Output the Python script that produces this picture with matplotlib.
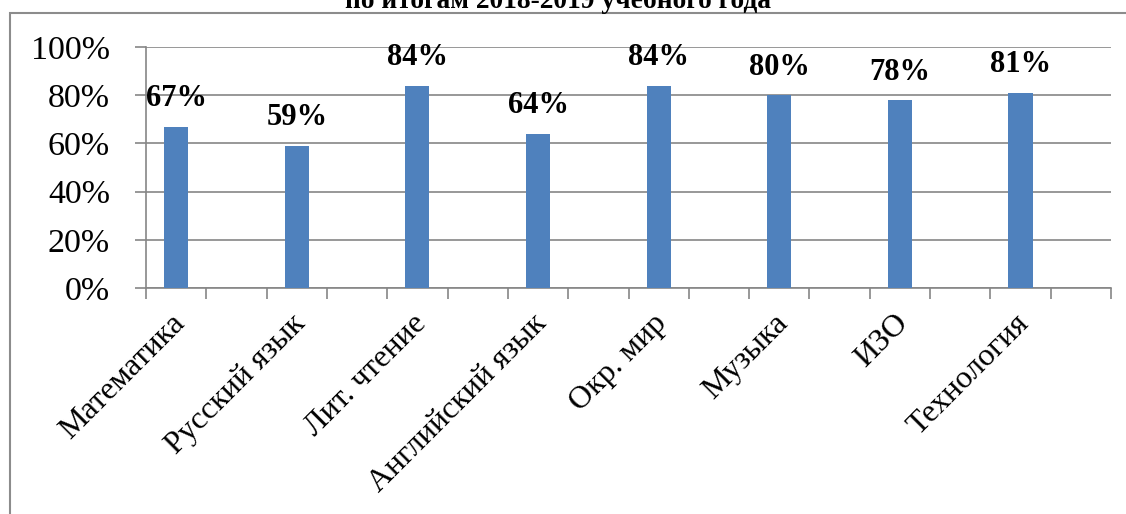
import matplotlib
matplotlib.use("Agg")
import matplotlib.pyplot as plt
from matplotlib.patches import Rectangle
from matplotlib.ticker import FixedLocator, PercentFormatter

subjects = ["Математика", "Русский язык", "Лит. чтение", "Английский язык",
            "Окр. мир", "Музыка", "ИЗО", "Технология"]
quality = [67, 59, 84, 64, 84, 80, 78, 81]
y_ticks = [0, 20, 40, 60, 80, 100]
title = "по итогам 2018-2019 учебного года"

BAR_COLOR = "#4F81BD"
GRID_COLOR = "#868686"

plt.rcParams["font.family"] = ["Liberation Serif", "DejaVu Serif"]

fig = plt.figure(figsize=(11.26, 5.14), dpi=100)

# outer chart frame (clipped on the right and bottom like the source)
frame = Rectangle((10 / 1126, -0.1), 1.2, 1 - 13 / 514 + 0.1,
                  transform=fig.transFigure, fill=False,
                  edgecolor="#8c8c8c", linewidth=1.5)
fig.patches.append(frame)

fig.text(0.496, 1 - 8 / 514, title, ha="center", va="baseline",
         fontsize=19.8, fontweight="bold")

ax = fig.add_axes([146 / 1126, 226 / 514, 965 / 1126, 241 / 514])
# bars sit in the left half of each category (blank slot on the right)
x = [i - 0.25 for i in range(len(subjects))]
ax.bar(x, quality, width=0.2, color=BAR_COLOR, zorder=3)

for xi, val in zip(x, quality):
    ax.annotate(f"{val}%", (xi, val), xytext=(0, 28), textcoords="offset pixels",
                ha="center", va="center", fontsize=22, fontweight="bold")

ax.set_xlim(-0.5, len(subjects) - 0.5)
ax.set_ylim(0, 100)
ax.set_yticks(y_ticks)
ax.yaxis.set_major_formatter(PercentFormatter(decimals=0))
ax.tick_params(axis="y", labelsize=24.5, length=8, color=GRID_COLOR, width=1.2, pad=18)

ax.set_xticks([xi - 0.05 for xi in x])
ax.set_xticklabels(subjects, rotation=45, ha="right", rotation_mode="anchor", fontsize=23)
ax.tick_params(axis="x", which="major", length=0, pad=15)
ax.xaxis.set_minor_locator(FixedLocator([i * 0.5 - 0.5 for i in range(2 * len(subjects) + 1)]))
ax.tick_params(axis="x", which="minor", length=8, color=GRID_COLOR, width=1.2)

ax.grid(axis="y", color=GRID_COLOR, linewidth=1.2, zorder=0)
for side in ["top", "right"]:
    ax.spines[side].set_visible(False)
for side in ["left", "bottom"]:
    ax.spines[side].set_color(GRID_COLOR)
    ax.spines[side].set_linewidth(1.2)

fig.savefig("out.png", dpi=100)
